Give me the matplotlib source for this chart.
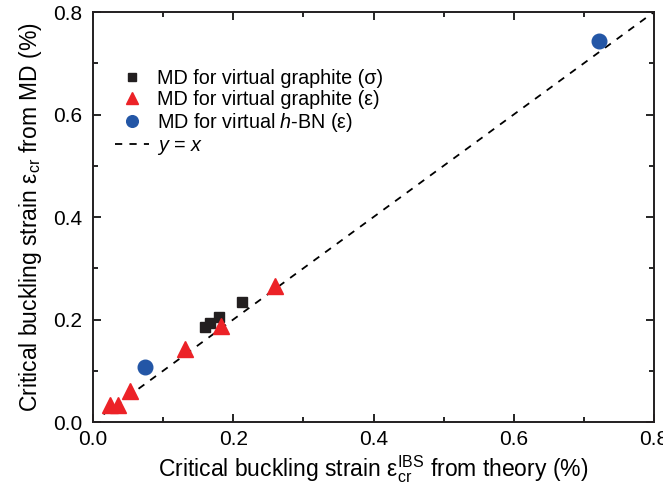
import matplotlib
matplotlib.use('Agg')
import matplotlib.pyplot as plt
from matplotlib.ticker import MultipleLocator

plt.rcParams['font.family'] = ['Liberation Sans', 'DejaVu Sans']
plt.rcParams['mathtext.fontset'] = 'custom'
plt.rcParams['mathtext.rm'] = 'Liberation Sans'
plt.rcParams['mathtext.it'] = 'Liberation Sans:italic'

# MD for virtual graphite (sigma)
sq_x = [0.160, 0.167, 0.180, 0.213]
sq_y = [0.186, 0.193, 0.205, 0.235]

# MD for virtual graphite (epsilon)
tri_x = [0.024, 0.036, 0.053, 0.131, 0.182, 0.259]
tri_y = [0.033, 0.033, 0.060, 0.142, 0.188, 0.265]

# MD for virtual h-BN (epsilon)
circ_x = [0.074, 0.721]
circ_y = [0.107, 0.744]

line_x = [0.015, 0.8]

fig = plt.figure(figsize=(6.63, 4.94), dpi=100)
ax = fig.add_axes([0.1403, 0.1457, 0.8461, 0.83])

ax.plot(line_x, line_x, '--', color='black', lw=1.3, dashes=(4, 4),
        label='$y$ = $x$', zorder=1)
ax.plot(sq_x, sq_y, 's', color='#231f20', ms=7.5, ls='none',
        label='MD for virtual graphite (σ)', zorder=3)
ax.plot(tri_x, tri_y, '^', color='#ec2227', ms=11, ls='none',
        label='MD for virtual graphite (ε)', zorder=3)
ax.plot(circ_x, circ_y, 'o', color='#2356a6', ms=10.5, ls='none',
        label='MD for virtual $h$-BN (ε)', zorder=3)

ax.set_xlim(0, 0.8)
ax.set_ylim(0, 0.8)
ax.xaxis.set_major_locator(MultipleLocator(0.2))
ax.xaxis.set_minor_locator(MultipleLocator(0.1))
ax.yaxis.set_major_locator(MultipleLocator(0.2))
ax.yaxis.set_minor_locator(MultipleLocator(0.1))
ax.tick_params(which='both', direction='in', top=True, right=True,
               labelsize=15, width=1.2)
ax.tick_params(which='major', length=6)
ax.tick_params(which='minor', length=3.5)
ax.tick_params(axis='x', which='major', pad=6)
ax.tick_params(axis='y', which='major', pad=8)
for s in ax.spines.values():
    s.set_linewidth(1.4)
    s.set_color('#231f20')

ax.set_xlabel(r'Critical buckling strain $\mathrm{ε}_{\mathrm{cr}}^{\mathrm{IBS}}$ from theory (%)',
              fontsize=16.5, labelpad=3)
ax.set_ylabel(r'Critical buckling strain $\mathrm{ε}_{\mathrm{cr}}$ from MD (%)',
              fontsize=16.5, labelpad=6)

handles, labels = ax.get_legend_handles_labels()
order = [1, 2, 3, 0]
ax.legend([handles[i] for i in order], [labels[i] for i in order],
          loc='upper left', bbox_to_anchor=(0.007, 0.905), frameon=False,
          fontsize=14.2, handlelength=1.75, handletextpad=0.4,
          labelspacing=0.1, markerscale=0.8)

fig.savefig('out.png', dpi=100)
